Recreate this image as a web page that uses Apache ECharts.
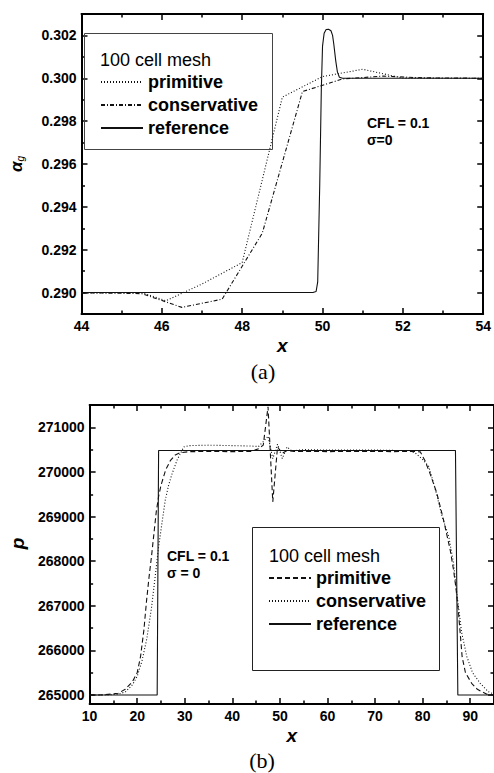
<!DOCTYPE html>
<html>
<head>
<meta charset="utf-8">
<script src="https://cdn.jsdelivr.net/npm/echarts@6/dist/echarts.min.js"></script>
<style>
html,body{margin:0;padding:0;background:#fff;}
#c{width:494px;height:773px;}
</style>
</head>
<body>
<div id="c"></div>
<script>
// ---------- (a) volume fraction ----------
const aRefX  = [44, 49.76, 49.84, 49.88, 49.93, 49.97, 50.0, 50.04, 50.09, 50.15, 50.21, 50.25, 50.28, 50.33, 50.37, 50.42, 50.5, 54];
const aRefY  = [0.2900, 0.2900, 0.29005, 0.2905, 0.2950, 0.2995, 0.3015, 0.3021, 0.30228, 0.30229, 0.30222, 0.3020, 0.3016, 0.3008, 0.3003, 0.30005, 0.3000, 0.3000];
const aPrimX = [44, 45.5, 46.1, 47, 48, 49, 50, 51, 52, 54];
const aPrimY = [0.28998, 0.29000, 0.28962, 0.29040, 0.29140, 0.29912, 0.30008, 0.30042, 0.30001, 0.30000];
const aConsX = [44, 44.5, 45.5, 46.5, 47.5, 48.5, 49.5, 50.5, 51.5, 52.5, 54];
const aConsY = [0.28998, 0.28998, 0.28995, 0.28931, 0.28969, 0.29277, 0.29938, 0.29997, 0.30010, 0.30002, 0.30000];
const aXMajor = [44, 46, 48, 50, 52, 54];
const aXMinor = [45, 47, 49, 51, 53];
const aYMajor = [0.290, 0.292, 0.294, 0.296, 0.298, 0.300, 0.302];
const aYMinor = [0.289, 0.291, 0.293, 0.295, 0.297, 0.299, 0.301, 0.303];

// ---------- (b) pressure ----------
const bRefX  = [10, 24.2, 24.5, 86.9, 87.4, 95];
const bRefY  = [265000, 265000, 270480, 270480, 265000, 265000];
const bPrimX = [10, 13, 16, 17.5, 19, 20, 20.7, 21.4, 22, 22.5, 23, 23.5, 24, 24.5, 25, 26, 27, 28, 29, 31, 36, 40, 44, 45.5, 46.5, 47.5, 48.5, 49.5, 50.5, 51.5, 53, 56, 60, 65, 70, 74, 76.5, 78, 79.5, 80.5, 81.5, 83, 84.4, 85.8, 86.5, 87, 87.5, 88.3, 89, 90.3, 91.5, 92.4, 93.5, 95];
const bPrimY = [265000, 265005, 265040, 265130, 265300, 265500, 265860, 266450, 267150, 267650, 268100, 268600, 269100, 269450, 269700, 270050, 270260, 270380, 270430, 270455, 270460, 270455, 270460, 270520, 270600, 271460, 269330, 270560, 270420, 270480, 270460, 270460, 270455, 270460, 270460, 270455, 270460, 270460, 270450, 270250, 269980, 269520, 268920, 268250, 267800, 267400, 266900, 265860, 265500, 265264, 265130, 265076, 265020, 265000];
const bConsX = [10, 14, 16, 17.5, 19, 20, 21, 22, 23, 23.7, 24.5, 25.2, 25.9, 26.6, 27.3, 28.4, 29.8, 31, 35, 40, 44, 45.5, 46.5, 47.5, 48.5, 49.5, 50.5, 51.5, 52.5, 55, 60, 65, 70, 75, 77, 78.5, 80, 81.3, 82.7, 84.1, 85.5, 86.5, 87.1, 88.2, 89.3, 90.5, 92.1, 93.8, 95];
const bConsY = [265000, 265005, 265020, 265070, 265230, 265420, 265760, 266250, 266950, 267580, 268320, 268850, 269370, 269700, 269950, 270270, 270560, 270590, 270600, 270590, 270580, 270570, 270680, 270800, 270300, 270620, 270300, 270560, 270470, 270500, 270490, 270490, 270490, 270480, 270480, 270420, 270280, 270118, 269600, 268997, 268549, 267953, 267354, 266400, 265860, 265500, 265264, 265076, 265020];
const bXMajor = [10, 20, 30, 40, 50, 60, 70, 80, 90];
const bXMinor = [15, 25, 35, 45, 55, 65, 75, 85, 95];
const bYMajor = [265000, 266000, 267000, 268000, 269000, 270000, 271000];
const bYMinor = [265500, 266500, 267500, 268500, 269500, 270500, 271500];

const SANS = 'Liberation Sans';
const zip = (xs, ys) => xs.map((x, i) => [x, ys[i]]);

function frameAxes(dim, grid, min, max, majors, minors, fmt, nameCfg) {
  const pos = dim === 'x' ? ['bottom', 'top'] : ['left', 'right'];
  const out = [];
  pos.forEach((p, i) => {
    out.push(Object.assign({
      type: 'value', gridIndex: grid, position: p, min: min, max: max,
      axisLine: {show: true, onZero: false, lineStyle: {color: '#000', width: 2}},
      axisTick: {show: true, inside: true, length: 6, customValues: majors, lineStyle: {color: '#000', width: 1.5}},
      axisLabel: {show: i === 0, customValues: majors, formatter: fmt, margin: 5,
                  fontFamily: SANS, fontWeight: 'bold', fontSize: 14, color: '#000'},
      splitLine: {show: false}
    }, i === 0 ? nameCfg : {}));
    out.push({
      type: 'value', gridIndex: grid, position: p, min: min, max: max,
      axisLine: {show: false},
      axisTick: {show: true, inside: true, length: 3.5, customValues: minors, lineStyle: {color: '#000', width: 1.5}},
      axisLabel: {show: false},
      splitLine: {show: false}
    });
  });
  return out;
}

const xAxes = [].concat(
  frameAxes('x', 0, 44, 54, aXMajor, aXMinor, v => String(Math.round(v)),
    {name: 'x', nameLocation: 'middle', nameGap: 22,
     nameTextStyle: {fontFamily: SANS, fontWeight: 'bold', fontStyle: 'italic', fontSize: 19, color: '#000'}}),
  frameAxes('x', 1, 10, 95, bXMajor, bXMinor, v => String(Math.round(v)),
    {name: 'x', nameLocation: 'middle', nameGap: 22,
     nameTextStyle: {fontFamily: SANS, fontWeight: 'bold', fontStyle: 'italic', fontSize: 19, color: '#000'}})
);
const yAxes = [].concat(
  frameAxes('y', 0, 0.289, 0.303, aYMajor, aYMinor, v => v.toFixed(3),
    {name: '{a|α}{s|g}', nameLocation: 'middle', nameGap: 56, nameRotate: 90,
     nameTextStyle: {color: '#000', rich: {
       a: {fontFamily: SANS, fontWeight: 'bold', fontStyle: 'italic', fontSize: 17, color: '#000'},
       s: {fontFamily: SANS, fontStyle: 'italic', fontSize: 10, color: '#000', padding: [8, 0, 0, 0]}}}}),
  frameAxes('y', 1, 264800, 271500, bYMajor, bYMinor, v => String(Math.round(v)),
    {name: 'p', nameLocation: 'middle', nameGap: 60, nameRotate: 90,
     nameTextStyle: {fontFamily: SANS, fontWeight: 'bold', fontStyle: 'italic', fontSize: 19, color: '#000', padding: [0, 0, 0, 22]}})
);

function line(name, xs, ys, grid, type) {
  return {
    name: name, type: 'line', xAxisIndex: grid * 4, yAxisIndex: grid * 4,
    data: zip(xs, ys), showSymbol: false, symbol: 'none', animation: false,
    itemStyle: {color: 'rgba(0,0,0,0)', borderWidth: 0},
    lineStyle: {color: '#111', width: 1.1, type: type}
  };
}

const legendBase = {
  orient: 'vertical', padding: 0, itemWidth: 42, itemHeight: 12, itemGap: 5,
  selectedMode: false, formatter: n => n.slice(2),
  itemStyle: {color: 'rgba(0,0,0,0)', borderWidth: 0, opacity: 0},
  textStyle: {fontFamily: SANS, fontWeight: 'bold', fontSize: 18, color: '#000'}
};

const option = {
  animation: false,
  backgroundColor: '#fff',
  grid: [
    {left: 78, top: 14, width: 409, height: 300},
    {left: 87, top: 405, width: 407, height: 299}
  ],
  xAxis: xAxes,
  yAxis: yAxes,
  legend: [
    Object.assign({}, legendBase, {left: 100, top: 73, data: ['a-primitive', 'a-conservative', 'a-reference']}),
    Object.assign({}, legendBase, {left: 268, top: 569, data: ['b-primitive', 'b-conservative', 'b-reference']})
  ],
  series: [
    line('a-primitive', aPrimX, aPrimY, 0, [1, 2]),
    line('a-conservative', aConsX, aConsY, 0, [4, 2, 1, 2]),
    line('a-reference', aRefX, aRefY, 0, 'solid'),
    line('b-primitive', bPrimX, bPrimY, 1, [5, 3]),
    line('b-conservative', bConsX, bConsY, 1, [1, 2]),
    line('b-reference', bRefX, bRefY, 1, 'solid')
  ],
  graphic: [
    {type: 'rect', shape: {x: 84.5, y: 33.5, width: 188, height: 116}, style: {fill: 'none', stroke: '#444', lineWidth: 1}, z: 1},
    {type: 'text', x: 100, y: 60, style: {text: '100 cell mesh', font: '18px "Liberation Sans"', fill: '#000', textVerticalAlign: 'middle'}},
    {type: 'text', x: 367, y: 123, style: {text: 'CFL = 0.1', font: 'bold 14px "Liberation Sans"', fill: '#000', textVerticalAlign: 'middle'}},
    {type: 'text', x: 367, y: 140, style: {text: 'σ=0', font: 'bold 14px "Liberation Sans"', fill: '#000', textVerticalAlign: 'middle'}},
    {type: 'text', x: 263, y: 371, style: {text: '(a)', font: '22px "Liberation Serif"', fill: '#000', textAlign: 'center', textVerticalAlign: 'middle'}},

    {type: 'rect', shape: {x: 252.5, y: 527.5, width: 187, height: 143}, style: {fill: 'none', stroke: '#222', lineWidth: 1}, z: 1},
    {type: 'text', x: 269, y: 556, style: {text: '100 cell mesh', font: '18px "Liberation Sans"', fill: '#000', textVerticalAlign: 'middle'}},
    {type: 'text', x: 167, y: 556, style: {text: 'CFL = 0.1', font: 'bold 14px "Liberation Sans"', fill: '#000', textVerticalAlign: 'middle'}},
    {type: 'text', x: 167, y: 573, style: {text: 'σ = 0', font: 'bold 14px "Liberation Sans"', fill: '#000', textVerticalAlign: 'middle'}},
    {type: 'text', x: 262, y: 760, style: {text: '(b)', font: '22px "Liberation Serif"', fill: '#000', textAlign: 'center', textVerticalAlign: 'middle'}}
  ]
};

const chart = echarts.init(document.getElementById('c'), null, {renderer: 'svg'});
chart.setOption(option);
</script>
</body>
</html>
